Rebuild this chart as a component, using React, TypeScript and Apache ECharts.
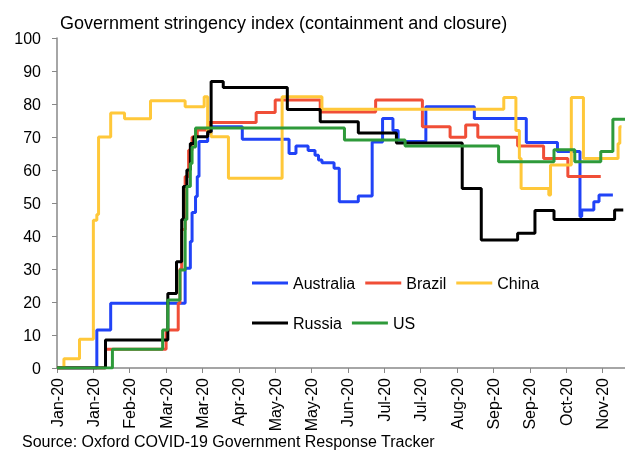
import React, { useEffect, useRef } from 'react';
import * as echarts from 'echarts';

const TITLE = 'Government stringency index (containment and closure)';
const SOURCE = 'Source: Oxford COVID-19 Government Response Tracker';
const MONTHS = ['Jan', 'Feb', 'Mar', 'Apr', 'May', 'Jun', 'Jul', 'Aug', 'Sep', 'Oct', 'Nov', 'Dec'];
const SERIES_NAMES = ['Australia', 'Brazil', 'China', 'Russia', 'US'];

// Change points: day index from 1 Jan 2020, index value from that day on
const australiaDays = [0, 23, 31, 74, 77, 78, 80, 81, 82, 87, 89, 107, 134, 138, 145, 149, 151, 153, 160, 163, 174, 182, 188, 194, 197, 213, 241, 271, 289, 302, 303, 310, 313, 321];
const australiaValues = [0, 11.5, 19.6, 30.2, 38.3, 47.1, 52, 58, 68.6, 71.1, 73.1, 69.3, 65, 67.3, 65.9, 64.5, 63, 62.2, 60.5, 50.4, 52.1, 68.5, 75.6, 72, 68.6, 79.2, 75.6, 68.3, 65.6, 45.9, 47.9, 50.4, 52.4, 52.4];

const brazilDays = [0, 28, 63, 70, 71, 72, 74, 76, 78, 81, 88, 115, 126, 152, 184, 211, 227, 236, 243, 266, 281, 295, 314];
const brazilValues = [0, 5.7, 11.5, 19.6, 30, 42, 58, 66, 70, 72.1, 74.4, 77.4, 81.2, 77.6, 81.2, 73.1, 69.9, 73.6, 69.9, 67.3, 63.5, 58, 58];

const chinaDays = [0, 4, 13, 21, 23, 24, 31, 39, 54, 74, 85, 87, 89, 99, 130, 153, 258, 265, 267, 268, 284, 285, 297, 304, 324, 325, 326];
const chinaValues = [0, 2.8, 8.7, 44.8, 46.5, 70, 77.3, 75.5, 81, 79.2, 82.2, 71.5, 70.1, 57.5, 82.2, 78.4, 82, 72, 63.5, 54.4, 52.4, 61.5, 82, 63.5, 68, 73.1, 73.1];

const russiaDays = [0, 28, 64, 69, 72, 73, 75, 77, 79, 87, 89, 96, 133, 152, 174, 196, 234, 245, 266, 276, 287, 322, 327];
const russiaValues = [0, 8.5, 22.6, 32.2, 45, 55, 60, 68, 70.1, 71.6, 86.8, 85, 78.3, 74.6, 71.2, 68.2, 54.4, 38.8, 40.8, 47.7, 45, 47.9, 47.9];

const usDays = [0, 32, 61, 64, 71, 74, 75, 77, 78, 80, 166, 201, 255, 287, 299, 314, 321, 328];
const usValues = [0, 5.7, 11.5, 20.6, 29.7, 45, 55, 62, 67, 72.7, 69.1, 67.3, 62.5, 66.1, 62.5, 65.6, 75.4, 75.4];

const Y_TICKS_MIN = 0;
const Y_TICKS_MAX = 100;
const Y_TICK_STEP = 10;
const X_DAY_MIN = 0;
const X_DAY_MAX = 328;
const X_DAY_STEP = 21;

const COLORS = ['#2143F7', '#F04E37', '#FFC83A', '#000000', '#2E9A3A'];
const FONT = "'Liberation Sans', Arial, Helvetica, sans-serif";

const toPairs = (days: number[], values: number[]) => days.map((d, i) => [d, values[i]]);

const dayLabel = (d: number) => {
  const dt = new Date(2020, 0, 1 + d);
  return `${MONTHS[dt.getMonth()]}-${String(dt.getFullYear()).slice(2)}`;
};

export default function App() {
  const ref = useRef<HTMLDivElement>(null);

  useEffect(() => {
    const chart = echarts.init(ref.current!, null, { renderer: 'svg' });
    const data = [
      toPairs(australiaDays, australiaValues),
      toPairs(brazilDays, brazilValues),
      toPairs(chinaDays, chinaValues),
      toPairs(russiaDays, russiaValues),
      toPairs(usDays, usValues),
    ];
    const legendBase = {
      icon: 'rect',
      itemWidth: 36,
      itemHeight: 3,
      itemGap: 10,
      orient: 'horizontal',
      selectedMode: false,
      textStyle: { fontFamily: FONT, fontSize: 16, color: '#000', width: 62 },
    };
    chart.setOption({
      animation: false,
      color: COLORS,
      textStyle: { fontFamily: FONT },
      title: [
        {
          text: TITLE,
          left: 60,
          top: 14,
          padding: 0,
          textStyle: { fontFamily: FONT, fontSize: 18, fontWeight: 'normal', color: '#000' },
        },
        {
          text: SOURCE,
          left: 22,
          top: 433,
          padding: 0,
          textStyle: { fontFamily: FONT, fontSize: 16, fontWeight: 'normal', color: '#000' },
        },
      ],
      legend: [
        { ...legendBase, data: SERIES_NAMES.slice(0, 3), left: 252, top: 275, padding: 0 },
        { ...legendBase, data: SERIES_NAMES.slice(3), left: 252, top: 315, padding: 0 },
      ],
      grid: { left: 57, right: 0, top: 38, bottom: 82, containLabel: false },
      xAxis: {
        type: 'value',
        min: X_DAY_MIN,
        max: X_DAY_MAX,
        interval: X_DAY_STEP,
        splitLine: { show: false },
        axisLine: { show: true, lineStyle: { color: '#888', width: 1.5 } },
        axisTick: { show: true, length: 5, lineStyle: { color: '#888' } },
        axisLabel: {
          rotate: 90,
          margin: 10,
          fontSize: 16,
          color: '#000',
          fontFamily: FONT,
          showMaxLabel: false,
          formatter: (v: number) => (v % X_DAY_STEP === 0 ? dayLabel(v) : ''),
        },
      },
      yAxis: {
        type: 'value',
        min: Y_TICKS_MIN,
        max: Y_TICKS_MAX,
        interval: Y_TICK_STEP,
        splitLine: { show: false },
        axisLine: { show: true, lineStyle: { color: '#888', width: 1.5 } },
        axisTick: { show: true, length: 5, lineStyle: { color: '#888' } },
        axisLabel: { margin: 16, fontSize: 16, color: '#000', fontFamily: FONT },
      },
      series: SERIES_NAMES.map((name, i) => ({
        name,
        type: 'line',
        step: 'end',
        data: data[i],
        showSymbol: false,
        symbol: 'none',
        lineStyle: { width: 3, color: COLORS[i] },
        itemStyle: { color: COLORS[i] },
      })),
    });
    return () => chart.dispose();
  }, []);

  return <div ref={ref} style={{ position: 'fixed', left: 0, top: 0, width: 625, height: 450 }} />;
}
